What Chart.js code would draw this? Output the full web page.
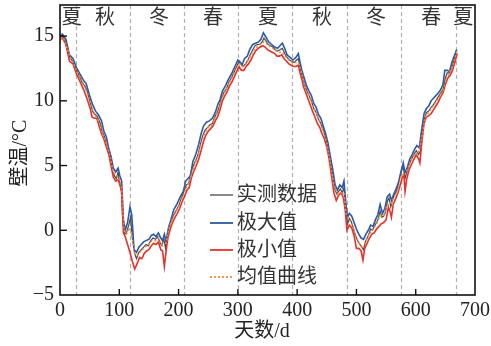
<!DOCTYPE html>
<html><head><meta charset="utf-8">
<script src="https://cdn.jsdelivr.net/npm/chart.js@4.4.1/dist/chart.umd.min.js"></script>
<style>html,body{margin:0;padding:0;background:#fff}#wrap{width:491px;height:346px}</style>
</head><body><div id="wrap"><canvas id="c" width="491" height="346"></canvas></div>
<script>
const seriesNames = ['实测数据','极大值','极小值','均值曲线'];
const measDays = [0,4,8,12,16,20,24,28,33,38,42,46,51,55,58,62,65,68,71,74,77,80,83,86,89,92,95,98,100,103,106,109,112,116,119,122,126,129,133,137,141,145,149,153,157,161,165,169,172,175,178,181,185,189,193,197,201,205,209,213,217,221,225,229,233,237,241,245,249,253,257,261,265,269,273,277,281,285,289,293,297,301,305,309,313,317,321,325,329,333,337,341,344,347,351,355,359,363,367,371,375,379,383,387,391,395,399,402,405,408,411,414,417,420,424,428,432,436,440,444,448,452,456,460,464,467,470,473,476,479,482,485,488,491,494,497,500,503,506,509,512,515,518,521,524,527,530,534,537,540,543,546,549,552,555,558,561,565,569,573,576,579,582,585,589,593,597,601,605,608,611,615,618,622,626,630,634,638,642,646,650,653,657,661,665,669];
const measVals = [14.85,15.05,14.75,14.05,13.35,13.15,12.75,12.35,11.85,11.35,11.15,10.7,9.9,9.2,8.95,8.85,8.55,8.25,7.65,7.35,6.95,6.55,6.05,5.3,4.5,4.2,4.0,4.5,3.8,3.5,0.6,-0.3,-0.2,0.4,1.0,-0.6,-1.8,-2.2,-1.7,-1.5,-1.3,-1.1,-1.2,-0.8,-0.6,-0.7,-0.5,-1.0,-1.2,-0.6,-1.4,-0.3,0.4,0.9,1.3,1.6,2.0,2.5,3.0,3.5,3.6,4.5,5.0,5.4,5.85,6.65,7.35,7.75,7.95,8.15,8.25,8.75,9.1,9.6,10.3,10.7,10.95,11.45,11.75,12.15,12.55,12.95,12.95,12.65,12.85,13.15,13.55,13.95,14.25,14.35,14.35,14.55,14.85,14.65,14.35,14.25,14.15,13.95,13.85,13.95,14.05,13.65,13.35,13.15,13.05,12.95,13.15,13.25,12.55,12.05,11.55,11.05,10.7,10.4,10.0,9.4,9.1,8.55,8.25,7.75,7.15,6.35,5.2,4.3,3.1,2.8,3.0,3.2,2.9,3.3,1.6,0.5,0.9,0.7,0.3,-0.2,-0.6,-0.9,-1.1,-1.3,-1.5,-0.9,-0.6,-0.3,0.1,0.0,0.3,0.6,0.9,1.5,1.0,1.1,1.4,2.2,2.5,1.8,2.4,2.8,3.2,4.0,4.6,4.9,4.0,4.5,5.1,5.5,5.85,6.15,5.85,6.15,7.35,8.65,9.1,9.2,9.5,9.7,10.0,10.3,10.6,10.85,11.75,12.15,12.15,12.65,13.15,13.95];
const maxDays = [0,4,10,16,22,28,34,40,44,50,55,60,65,70,74,78,82,86,90,94,98,101,104,107,110,114,118,121,125,129,133,137,141,145,150,154,158,162,166,170,173,176,179,183,187,192,197,203,208,212,216,220,224,229,234,238,242,247,252,257,262,266,270,274,279,284,289,294,300,303,307,311,316,320,325,330,335,339,343,347,352,357,362,367,371,375,379,383,388,393,398,402,405,408,412,416,420,424,428,432,436,440,444,448,452,456,460,464,468,472,476,479,482,485,488,492,496,500,504,508,512,516,520,524,528,532,536,540,544,548,552,556,559,563,567,571,575,579,582,586,590,594,598,602,606,610,614,618,622,626,630,634,638,642,646,649,653,657,661,665,669];
const maxVals = [14.95,15.15,14.75,13.55,13.25,12.55,12.05,11.55,11.35,10.4,9.7,9.2,8.9,8.45,7.65,7.25,6.35,5.7,4.8,4.5,4.8,4.2,3.8,0.8,0.0,0.6,1.8,1.2,-1.5,-1.7,-1.3,-1.1,-0.9,-0.8,-0.7,-0.4,-0.3,-0.5,-0.2,-0.6,-0.8,-0.3,-0.9,0.2,0.8,1.6,2.0,2.6,3.0,3.8,4.0,4.2,5.3,5.85,6.65,7.45,8.05,8.35,8.45,8.65,9.1,9.7,10.1,10.75,11.15,11.65,12.05,12.55,13.15,13.05,12.75,13.25,13.45,13.95,14.35,14.45,14.55,14.75,15.25,14.95,14.55,14.35,14.15,14.05,14.25,14.45,14.05,13.55,13.35,13.15,13.35,13.65,12.95,12.35,11.75,11.15,10.75,10.4,9.8,9.5,8.95,8.65,8.05,7.45,6.75,5.7,4.7,3.5,3.1,3.5,3.3,3.8,2.2,1.0,1.3,1.1,0.6,0.1,-0.3,-0.6,-0.7,-0.3,0.0,0.4,0.3,0.8,1.2,2.0,1.3,1.7,2.6,2.8,2.3,2.8,3.2,3.7,4.5,5.2,4.4,4.9,5.5,5.85,6.25,6.55,6.35,7.75,9.0,9.4,9.6,10.0,10.2,10.4,10.6,10.85,11.25,12.35,12.35,12.25,12.95,13.45,13.95];
const minDays = [0,4,10,16,22,28,34,40,46,51,54,58,62,66,70,74,78,82,86,90,94,98,101,104,107,110,114,118,122,126,130,134,138,142,146,150,154,158,162,166,170,173,176,179,182,186,190,194,198,202,206,210,214,218,222,226,230,234,238,242,246,250,254,258,262,266,270,274,278,282,286,290,294,298,302,306,310,314,318,322,326,330,334,338,342,346,350,354,358,362,366,370,374,378,382,386,390,394,398,402,405,408,411,414,418,422,426,430,434,438,442,446,450,454,458,462,466,470,474,478,481,484,488,492,496,500,504,508,511,514,518,522,526,530,534,538,542,546,550,554,557,559,562,566,570,574,577,580,582,585,589,593,597,601,605,607,610,614,618,622,626,630,634,638,642,646,650,654,658,662,666,670];
const minVals = [14.75,14.85,14.35,13.05,12.85,12.05,11.45,10.85,10.1,9.4,8.75,8.65,8.65,8.05,7.45,7.05,6.45,5.9,5.0,4.1,3.8,3.9,3.5,3.0,-0.2,-0.5,-1.1,-1.7,-2.4,-3.0,-2.6,-2.1,-2.2,-1.8,-1.6,-1.5,-1.2,-1.0,-1.1,-0.9,-1.5,-1.6,-2.8,-1.6,-0.6,0.1,0.6,1.0,1.3,1.7,2.2,2.6,3.1,3.3,4.1,4.6,5.0,5.5,6.15,6.85,7.35,7.65,7.85,8.05,8.45,8.8,9.3,10.0,10.4,10.7,11.15,11.45,11.85,12.25,12.65,12.35,12.35,12.65,12.85,13.15,13.55,13.85,14.05,14.15,14.25,14.15,13.95,13.85,13.75,13.65,13.45,13.45,13.55,13.25,13.05,12.85,12.75,12.65,12.65,12.75,12.15,11.65,11.05,10.7,10.2,9.7,9.2,8.75,8.25,7.95,7.45,7.05,6.45,5.5,4.2,2.9,2.3,2.7,2.9,2.5,1.6,0.0,0.4,0.2,-0.4,-1.4,-1.4,-1.6,-2.3,-1.4,-1.0,-0.6,-0.3,-0.2,0.1,0.3,0.5,0.6,0.8,1.8,1.4,1.0,2.0,2.4,2.9,3.5,4.0,4.3,3.0,4.0,4.7,5.1,5.5,5.85,5.5,5.2,6.65,8.25,8.75,8.85,9.0,9.3,9.6,9.9,10.3,10.6,11.25,11.75,11.95,12.35,12.95,13.65];
const meanDays = [0,6,12,18,24,30,36,42,48,54,60,66,72,78,84,90,96,100,104,108,112,117,121,126,131,137,143,149,155,161,166,171,175,179,184,190,196,202,208,214,220,226,232,238,244,250,256,262,268,274,280,286,292,298,303,308,314,320,326,332,338,344,350,356,362,368,374,380,386,392,398,403,408,414,420,426,432,438,444,450,456,462,468,474,479,483,488,494,500,506,511,516,522,528,534,540,546,552,558,564,570,576,581,586,592,598,604,610,616,622,628,634,640,646,652,658,664,670];
const meanVals = [14.85,14.85,14.05,13.25,12.75,12.15,11.65,11.05,10.3,9.4,8.85,8.35,7.45,6.75,5.8,4.5,4.2,3.9,3.3,0.0,-0.3,0.2,-0.3,-1.8,-1.9,-1.6,-1.3,-1.1,-0.8,-0.8,-0.6,-1.1,-1.1,-1.0,0.2,0.9,1.5,2.0,2.7,3.4,4.0,4.9,5.7,6.65,7.45,7.95,8.15,8.75,9.4,10.3,10.85,11.45,11.95,12.55,12.85,12.65,12.85,13.35,13.85,14.15,14.35,14.55,14.35,14.15,13.95,13.75,13.75,13.45,13.15,12.95,12.95,12.85,12.05,11.05,10.4,9.7,9.1,8.45,7.65,6.75,5.2,3.5,2.8,2.9,2.9,1.2,0.8,0.3,-0.6,-1.1,-1.4,-0.8,-0.3,0.1,0.5,1.1,1.1,2.0,2.0,2.6,3.1,4.3,4.2,4.7,5.4,5.85,5.85,7.05,8.75,9.1,9.5,9.9,10.3,10.75,11.75,12.25,12.95,13.95];
const xTicks = [0,100,200,300,400,500,600,700];
const yTicks = [-5,0,5,10,15];
const seasonLines = [27,118,209,300,392,484,576,668];
const seasonNames = ['夏','秋','冬','春','夏','秋','冬','春','夏'];
const seasonPos = [20,76,167,258,351,442,533,626,680];

const colors = ['#4a4a4a','#2b5aa8','#e8302a','#f28a3a'];
const NUM_FONT = "'Liberation Serif','Times New Roman','Noto Sans CJK SC',serif";
const CJK_FONT = "'Liberation Serif','Noto Sans CJK SC',serif";

function pts(d, v){ return d.map((x,i)=>({x:x, y:v[i]})); }

const overlay = {
  id:'overlay',
  beforeDatasetsDraw(chart){
    const {ctx, chartArea:a, scales:{x}} = chart;
    ctx.save();
    ctx.strokeStyle = '#b0b0b0'; ctx.lineWidth = 1.2; ctx.setLineDash([4,3]);
    seasonLines.forEach(d=>{
      const px = Math.round(x.getPixelForValue(d))+0.5;
      ctx.beginPath(); ctx.moveTo(px, a.top); ctx.lineTo(px, a.bottom); ctx.stroke();
    });
    ctx.restore();
  },
  afterDraw(chart){
    const {ctx, chartArea:a, scales:{x,y}} = chart;
    ctx.save();
    ctx.strokeStyle = '#111'; ctx.lineWidth = 1.6; ctx.setLineDash([]);
    ctx.strokeRect(a.left, a.top, a.right-a.left, a.bottom-a.top);
    ctx.lineWidth = 1.4;
    xTicks.forEach(v=>{ const px = x.getPixelForValue(v); if(v>0 && v<700){ctx.beginPath();ctx.moveTo(px,a.bottom);ctx.lineTo(px,a.bottom-6);ctx.stroke();}});
    yTicks.forEach(v=>{ const py = y.getPixelForValue(v); if(v>-5){ctx.beginPath();ctx.moveTo(a.left,py);ctx.lineTo(a.left+7,py);ctx.stroke();}});
    ctx.fillStyle = '#333'; ctx.font = "20px " + CJK_FONT; ctx.textAlign='center'; ctx.textBaseline='middle';
    seasonNames.forEach((s,i)=>{ ctx.fillText(s, x.getPixelForValue(seasonPos[i]), 19); });
    const lx0 = 210, lx1 = 233, ly = [195,223,250,277];
    seriesNames.forEach((n,i)=>{
      ctx.strokeStyle = colors[i]; ctx.lineWidth = i===0?1.3:1.8;
      ctx.setLineDash(i===3?[2,2]:[]);
      ctx.beginPath(); ctx.moveTo(lx0, ly[i]); ctx.lineTo(lx1, ly[i]); ctx.stroke();
      ctx.setLineDash([]);
      ctx.fillStyle = '#333'; ctx.font = "20px " + CJK_FONT; ctx.textAlign='left'; ctx.textBaseline='middle';
      ctx.fillText(n, 237, ly[i]+1);
    });
    ctx.fillStyle = '#222'; ctx.font = "20px " + CJK_FONT; ctx.textAlign='center'; ctx.textBaseline='middle';
    ctx.fillText('天数/d', 262, 332);
    ctx.translate(21, 153); ctx.rotate(-Math.PI/2);
    ctx.fillText('壁温/°C', 0, 0);
    ctx.restore();
  }
};

new Chart(document.getElementById('c'), {
  type:'line',
  data:{ datasets:[
    {label:seriesNames[0], data:pts(measDays,measVals), borderColor:colors[0], borderWidth:1.2, order:4},
    {label:seriesNames[1], data:pts(maxDays,maxVals), borderColor:colors[1], borderWidth:1.6, order:3},
    {label:seriesNames[2], data:pts(minDays,minVals), borderColor:colors[2], borderWidth:1.6, order:2},
    {label:seriesNames[3], data:pts(meanDays,meanVals), borderColor:colors[3], borderWidth:1.5, borderDash:[2,2], order:1}
  ]},
  options:{
    responsive:false, animation:false, devicePixelRatio:1,
    layout:{padding:{left:0,right:16,top:5,bottom:0}},
    elements:{point:{radius:0}, line:{tension:0, fill:false}},
    plugins:{legend:{display:false}, tooltip:{enabled:false}},
    scales:{
      x:{type:'linear', min:0, max:700,
        afterBuildTicks(s){ s.ticks = xTicks.map(v=>({value:v})); },
        afterFit(s){ s.height = 51; s.paddingLeft = 0; s.paddingRight = 0; },
        grid:{display:false, drawTicks:false}, border:{display:false},
        ticks:{padding:4, color:'#222', font:{family:NUM_FONT, size:20}, maxRotation:0, callback:v=>String(v)}},
      y:{type:'linear', min:-5, max:17.4,
        afterBuildTicks(s){ s.ticks = yTicks.map(v=>({value:v})); },
        afterFit(s){ s.width = 60; s.paddingTop = 0; s.paddingBottom = 0; },
        grid:{display:false, drawTicks:false}, border:{display:false},
        ticks:{padding:6, color:'#222', font:{family:NUM_FONT, size:20}, callback:v=> v<0 ? '\u2212'+Math.abs(v) : String(v)}}
    }
  },
  plugins:[overlay]
});
</script></body></html>
